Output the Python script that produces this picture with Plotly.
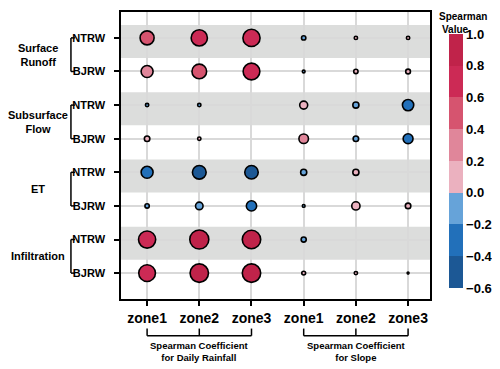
import plotly.graph_objects as go

# ── Data ───────────────────────────────────────────────────────────────────────
ZONES = ["zone1", "zone2", "zone3", "zone1", "zone2", "zone3"]
ROWS = ["NTRW", "BJRW", "NTRW", "BJRW", "NTRW", "BJRW", "NTRW", "BJRW"]
GROUPS = ["Surface<br>Runoff", "Subsurface<br>Flow", "ET", "Infiltration"]
BRACKETS = ["Spearman Coefficient<br>for Daily Rainfall", "Spearman Coefficient<br>for Slope"]

# Spearman coefficient vs daily rainfall (zone1..zone3), one row per ROWS entry
RAIN = [
    [0.52, 0.70, 0.78],
    [0.38, 0.57, 0.74],
    [-0.03, -0.03, None],
    [0.08, 0.03, None],
    [-0.38, -0.50, -0.48],
    [-0.05, -0.15, -0.28],
    [0.78, 0.96, 0.90],
    [0.74, 0.90, 0.90],
]
# Spearman coefficient vs slope (zone1..zone3)
SLOPE = [
    [-0.05, 0.03, 0.03],
    [-0.02, 0.05, 0.06],
    [0.17, -0.10, -0.34],
    [0.24, -0.08, -0.26],
    [-0.10, 0.10, None],
    [-0.02, 0.18, 0.08],
    [-0.07, None, None],
    [0.04, 0.03, 0.01],
]
CBAR_TICKS = [-0.6, -0.4, -0.2, 0.0, 0.2, 0.4, 0.6, 0.8, 1.0]

# ── Style ──────────────────────────────────────────────────────────────────────
FONT = "Liberation Sans, Arial, sans-serif"
BAND = "#DCDDDC"
GRID = "#D9D9D9"
STEPS = ["#1C5895", "#2270BA", "#66A3D9", "#EBB1BF",
         "#E0869A", "#D6546F", "#CC2A55", "#C0234A"]

colorscale = []
for i, c in enumerate(STEPS):
    colorscale.append([i / len(STEPS), c])
    colorscale.append([(i + 1) / len(STEPS), c])

xs, ys, vals = [], [], []
for r in range(len(ROWS)):
    for c, v in enumerate(RAIN[r] + SLOPE[r]):
        if v is None:
            continue
        xs.append(c)
        ys.append(r)
        vals.append(v)

fig = go.Figure(go.Scatter(
    x=xs, y=ys, mode="markers",
    marker=dict(
        size=[abs(v) for v in vals], sizemode="area", sizeref=0.0053,
        color=vals, colorscale=colorscale, cmin=-0.6, cmax=1.0,
        opacity=1,
        line=dict(color="black", width=1.6),
        colorbar=dict(
            x=1.0615, xanchor="left", y=0.481, yanchor="middle",
            thickness=14, len=254, lenmode="pixels",
            xpad=0, ypad=0, outlinewidth=0, ticks="",
            tickvals=CBAR_TICKS,
            ticktext=[f"{t:.1f}".replace("-", "\u2212") for t in CBAR_TICKS],
            tickfont=dict(size=13, color="black", family=FONT, weight="bold"),
        ),
    ),
    hoverinfo="skip",
))

# gray bands behind NTRW rows
for r in range(0, len(ROWS), 2):
    fig.add_shape(type="rect", xref="paper", yref="y", x0=0, x1=1,
                  y0=r - 0.38, y1=r + 0.6, fillcolor=BAND,
                  line=dict(width=0), layer="below")

# left brackets + group labels
for g, name in enumerate(GROUPS):
    y0, y1 = 2 * g, 2 * g + 1
    fig.add_shape(type="line", xref="paper", yref="y", x0=-0.162, x1=-0.162,
                  y0=y0, y1=y1, line=dict(color="black", width=1.5))
    for yy in (y0, y1):
        fig.add_shape(type="line", xref="paper", yref="y", x0=-0.162, x1=-0.149,
                      y0=yy, y1=yy, line=dict(color="black", width=1.5))
    fig.add_annotation(text=f"<b>{name}</b>", xref="paper", yref="y",
                       x=-0.267, y=(y0 + y1) / 2, showarrow=False,
                       xanchor="center", yanchor="middle",
                       font=dict(size=11, color="black", family=FONT))

# bottom brackets
for b, name in enumerate(BRACKETS):
    c0 = 3 * b
    fig.add_shape(type="line", xref="x", yref="paper", x0=c0, x1=c0 + 2,
                  y0=-0.128, y1=-0.128, line=dict(color="black", width=1.5))
    for cc in range(c0, c0 + 3):
        fig.add_shape(type="line", xref="x", yref="paper", x0=cc, x1=cc,
                      y0=-0.128, y1=-0.103, line=dict(color="black", width=1.5))
    fig.add_annotation(text=f"<b>{name}</b>", xref="x", yref="paper",
                       x=c0 + 1, y=-0.183, showarrow=False,
                       xanchor="center", yanchor="middle",
                       font=dict(size=9.5, color="black", family=FONT))

# colour bar heading, two lines placed separately
fig.add_annotation(text="<b>Spearman</b>", xref="paper", yref="paper",
                   x=1.107, y=1.007, showarrow=False,
                   xanchor="center", yanchor="top", borderpad=0,
                   font=dict(size=10, color="black", family=FONT))
fig.add_annotation(text="<b>Value</b>", xref="paper", yref="paper",
                   x=1.083, y=0.962, showarrow=False,
                   xanchor="center", yanchor="top", borderpad=0,
                   font=dict(size=10, color="black", family=FONT))

# page body adds 8px offset, so margins are trimmed by 8px on left/top
fig.update_layout(
    width=500, height=369,
    margin=dict(l=113, r=78, t=2, b=78),
    paper_bgcolor="white", plot_bgcolor="white",
    font=dict(family=FONT, color="black"),
    showlegend=False,
)
fig.update_xaxes(
    range=[-0.5, 5.42], tickvals=list(range(len(ZONES))), ticktext=ZONES,
    showgrid=True, gridcolor=GRID, gridwidth=1.5, zeroline=False,
    showline=True, linecolor="black", linewidth=1.5, mirror=True,
    ticks="outside", ticklen=5, tickwidth=1.5, tickcolor="black",
    ticklabelstandoff=0,
    tickfont=dict(size=14, color="black", family=FONT, weight="bold"),
)
fig.update_yaxes(
    range=[7.77, -0.77], tickvals=list(range(len(ROWS))), ticktext=ROWS,
    showgrid=True, gridcolor=GRID, gridwidth=1.5, zeroline=False,
    showline=True, linecolor="black", linewidth=1.5, mirror=True,
    ticks="outside", ticklen=5, tickwidth=1.5, tickcolor="black",
    ticklabelstandoff=7,
    tickfont=dict(size=11, color="black", family=FONT, weight="bold"),
)

fig.write_html("out.html")
